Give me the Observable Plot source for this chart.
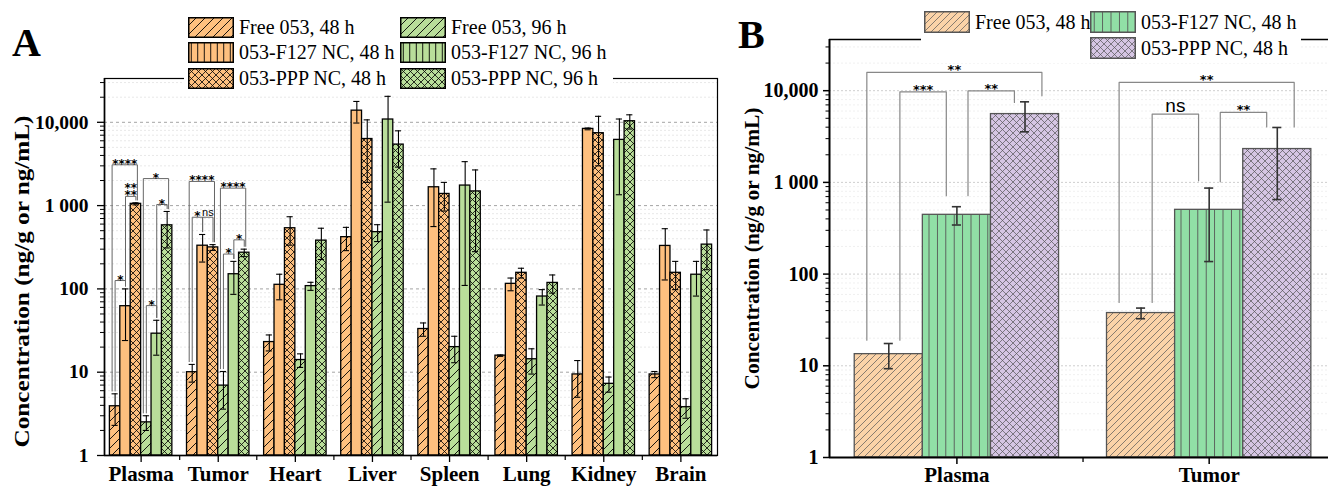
<!DOCTYPE html>
<html><head><meta charset="utf-8">
<script src="https://cdn.jsdelivr.net/npm/d3@7"></script>
<script src="https://cdn.jsdelivr.net/npm/@observablehq/plot@0.6"></script>
<style>
html,body{margin:0;padding:0;background:#fff;}
#root{position:relative;width:1328px;height:488px;overflow:hidden;}
.panel{position:absolute;top:0;}
.plab{position:absolute;font:bold 40px "Liberation Serif",serif;line-height:1;color:#000;}
.legbox{position:absolute;background:#fff;}
.item{position:absolute;display:flex;align-items:center;font:20px "Liberation Serif",serif;white-space:nowrap;color:#000;}
.item svg{display:block;margin-right:5px;flex:none;}
</style></head><body>
<div id="root">
<svg width="0" height="0" style="position:absolute;left:0;top:0"><defs id="defs"></defs></svg>
</div>
<script>
// ---------------- DATA ----------------
const organsA = ["Plasma","Tumor","Heart","Liver","Spleen","Lung","Kidney","Brain"];
const seriesA = ["Free 053, 48 h","053-F127 NC, 48 h","053-PPP NC, 48 h","Free 053, 96 h","053-F127 NC, 96 h","053-PPP NC, 96 h"];
const free48A   = [3.9, 10, 23, 418, 33, 15.8, 9.4, 9.4];
const free48Sd  = [1.6, 2.4, 5, 130, 6, 0.3, 4.4, 0.8];
const f127_48A  = [62, 330, 112, 13800, 1660, 115, 8330, 328];
const f127_48Sd = [38, 120, 38, 4000, 1100, 20, 200, 200];
const ppp48A    = [1050, 315, 535, 6300, 1380, 156, 7400, 156];
const ppp48Sd   = [30, 25, 200, 4400, 520, 21, 4400, 58];
const free96A   = [2.5, 6.9, 14, 480, 20, 14.3, 7.25, 3.8];
const free96Sd  = [0.5, 3.3, 2.6, 110, 7, 4.8, 1.5, 1.0];
const f127_96A  = [29, 150, 108, 10800, 1740, 81, 6150, 148];
const f127_96Sd = [13, 64, 12, 9700, 1630, 17, 4800, 66];
const ppp96A    = [580, 272, 380, 5400, 1480, 118, 10300, 340];
const ppp96Sd   = [270, 28, 155, 2500, 1200, 29, 2000, 170];

// significance brackets, panel A
const sigOrganA = ["Plasma","Plasma","Plasma","Plasma","Plasma","Plasma","Tumor","Tumor","Tumor","Tumor","Tumor","Tumor"];
const sigFromA  = [0, 1, 0, 3, 4, 3, 0, 0, 1, 3, 3, 4];
const sigToA    = [2, 2, 1, 5, 5, 4, 2, 1, 2, 5, 4, 5];
const sigLevelA = [3090, 1290, 126, 2110, 1030, 63, 1950, 725, 725, 1620, 262, 388];
const sigLabelA = ["****", "**\n**", "*", "*", "*", "*", "****", "*", "ns", "****", "*", "*"];

const organsB = ["Plasma","Tumor"];
const seriesB = ["Free 053, 48 h","053-F127 NC, 48 h","053-PPP NC, 48 h"];
const freeB   = [13.4, 37.6];
const freeSdB = [4.1, 5];
const f127B   = [443, 502];
const f127SdB = [100, 365];
const pppB    = [5560, 2310];
const pppSdB  = [2000, 1660];

// significance brackets, panel B
const sigOrganB    = ["Plasma","Plasma","Plasma","Tumor","Tumor","Tumor"];
const sigFromB     = [0, 0, 1, 0, 0, 1];
const sigToB       = [2, 1, 2, 2, 1, 2];
const sigLevelB    = [15800, 9730, 9970, 12300, 5560, 5790];
const sigBaseFromB = [19, 19, 715, 49, 49, 1014];
const sigBaseToB   = [8800, 715, 7450, 4030, 1040, 4030];
const sigLabelB    = ["**", "***", "**", "**", "ns", "**"];

const yTicks = [1, 10, 100, 1000, 10000];
const yTickLabels = ["1", "10", "100", "1 000", "10,000"];
const yTitle = "Concentration (ng/g or ng/mL)";

// ---------------- STYLE ----------------
const SERIF = "Liberation Serif, Times New Roman, serif";
const SANS = "DejaVu Sans, sans-serif";
const ORA = "#FEC07F", GRA = "#B9DE9A";
const ORB = "#FBD3A8", GRB = "#91DFA6", PUB = "#D5C5E3";

const defs = d3.select("#defs");
function pattern(id, kind, bg, size, stroke, sw) {
  const p = defs.append("pattern").attr("id", id).attr("patternUnits", "userSpaceOnUse")
    .attr("width", size).attr("height", size);
  p.append("rect").attr("width", size).attr("height", size).attr("fill", bg);
  const g = p.append("path").attr("fill", "none").attr("stroke", stroke).attr("stroke-width", sw);
  const s = size;
  if (kind === "diag") g.attr("d", `M0,${s} L${s},0 M${-s/2},${s/2} L${s/2},${-s/2} M${s/2},${s*1.5} L${s*1.5},${s/2}`);
  if (kind === "cross") g.attr("d", `M0,0 L${s},${s} M0,${s} L${s},0`);
  if (kind === "vert") g.attr("d", `M${s/2},0 L${s/2},${s}`);
}
pattern("aO_diag", "diag", ORA, 9, "#000", 0.9);
pattern("aO_vert", "vert", ORA, 6.5, "#000", 0.9);
pattern("aO_cross", "cross", ORA, 7, "#000", 0.8);
pattern("aG_diag", "diag", GRA, 9, "#000", 0.9);
pattern("aG_vert", "vert", GRA, 6.5, "#000", 0.9);
pattern("aG_cross", "cross", GRA, 7, "#000", 0.8);
pattern("bO_diag", "diag", ORB, 7, "#555", 0.7);
pattern("bG_vert", "vert", GRB, 8.4, "#555", 0.9);
pattern("bP_cross", "cross", PUB, 7, "#555", 0.7);

const barFillA = ["url(#aO_diag)", ORA, "url(#aO_cross)", "url(#aG_diag)", GRA, "url(#aG_cross)"];
const legFillA = ["url(#aO_diag)", "url(#aO_vert)", "url(#aO_cross)", "url(#aG_diag)", "url(#aG_vert)", "url(#aG_cross)"];
const fillB = ["url(#bO_diag)", "url(#bG_vert)", "url(#bP_cross)"];

const minorY = (max) => yTicks.flatMap(d => d3.range(2, 10).map(m => d * m)).filter(v => v <= max);
const fmtY = d => yTickLabels[yTicks.indexOf(d)];

const root = document.getElementById("root");
function place(node, left) {
  const d = document.createElement("div"); d.className = "panel"; d.style.left = left + "px";
  d.appendChild(node); root.appendChild(d); return node;
}
function stretchTitle(svg, len) {
  svg.querySelectorAll("text").forEach(t => {
    if (t.textContent === yTitle) { t.setAttribute("textLength", len); t.setAttribute("lengthAdjust", "spacingAndGlyphs"); }
  });
}

// ---------------- PANEL A ----------------
const meansA = [free48A, f127_48A, ppp48A, free96A, f127_96A, ppp96A];
const sdsA = [free48Sd, f127_48Sd, ppp48Sd, free96Sd, f127_96Sd, ppp96Sd];
const xDomA = [-0.475, 7.475], yMaxA = 33560;
const WA = 0.81 / 6, capA = 0.04;
const cxA = (i, k) => i + (k - 2.5) * WA;
const rowsA = meansA.map((arr, k) => arr.map((v, i) => ({i, k, v, sd: sdsA[k][i]})));
const allA = rowsA.flat();
const errTopA = (k, i) => meansA[k][i] + sdsA[k][i];

const brA = sigLabelA.map((label, j) => {
  const i = organsA.indexOf(sigOrganA[j]), f = sigFromA[j], t = sigToA[j];
  const outer = t - f >= 2;
  const xL = cxA(i, f) + (outer ? -0.039 : 0), xR = cxA(i, t) + (outer ? 0.019 : 0);
  return {j, label, xL, xR, level: sigLevelA[j], bL: errTopA(f, i) * 1.08, bR: errTopA(t, i) * 1.08};
});
const brPtsA = brA.flatMap(b => [
  {id: b.j, x: b.xL, y: b.bL}, {id: b.j, x: b.xL, y: b.level},
  {id: b.j, x: b.xR, y: b.level}, {id: b.j, x: b.xR, y: b.bR}]);
const labA = brA.map(b => ({x: (b.xL + b.xR) / 2, y: b.level, label: b.label}));

const svgA = Plot.plot({
  width: 740, height: 488, marginLeft: 104, marginRight: 23, marginTop: 78, marginBottom: 33,
  x: {domain: xDomA},
  y: {type: "log", domain: [1, yMaxA]},
  style: {background: "transparent", fontFamily: SERIF, color: "#000"},
  marks: [
    Plot.ruleY(minorY(yMaxA), {stroke: "#e2e2e2", strokeWidth: 0.8, strokeDasharray: "2,2"}),
    Plot.ruleY(yTicks.slice(1), {stroke: "#9a9a9a", strokeWidth: 0.9, strokeDasharray: "3,3"}),
    ...rowsA.map((rows, k) => Plot.rect(rows, {
      x1: d => cxA(d.i, d.k) - WA / 2, x2: d => cxA(d.i, d.k) + WA / 2,
      y1: 1, y2: "v", fill: barFillA[k], stroke: "#000", strokeWidth: 1.3})),
    Plot.ruleX(allA, {x: d => cxA(d.i, d.k), y1: d => d.v - d.sd, y2: d => d.v + d.sd, stroke: "#000", strokeWidth: 1.1}),
    Plot.ruleY(allA, {y: d => d.v + d.sd, x1: d => cxA(d.i, d.k) - capA, x2: d => cxA(d.i, d.k) + capA, stroke: "#000", strokeWidth: 1.1}),
    Plot.ruleY(allA, {y: d => d.v - d.sd, x1: d => cxA(d.i, d.k) - capA, x2: d => cxA(d.i, d.k) + capA, stroke: "#000", strokeWidth: 1.1}),
    Plot.line(brPtsA, {x: "x", y: "y", z: "id", stroke: "#666", strokeWidth: 1}),
    Plot.text(labA.filter(d => d.label !== "ns"), {x: "x", y: "y", text: "label", lineAnchor: "bottom", dy: 3,
      fontSize: 12, fontWeight: "bold", fontFamily: SANS, lineHeight: 0.62, fill: "#000"}),
    Plot.text(labA.filter(d => d.label === "ns"), {x: "x", y: "y", text: "label", lineAnchor: "bottom", dy: -1,
      fontSize: 11, fontFamily: "Liberation Sans, sans-serif", fill: "#000"}),
    Plot.frame({stroke: "#000", strokeWidth: 1.2}),
    Plot.ruleX([xDomA[0]], {stroke: "#000", strokeWidth: 1.6}),
    Plot.ruleY([1], {stroke: "#000", strokeWidth: 1.6}),
    Plot.axisY({ticks: yTicks, tickFormat: fmtY, tickSize: 7, tickPadding: 9, fontSize: 19.5, fontWeight: "bold",
      fontFamily: SERIF, label: null, strokeWidth: 1.3, color: "#000"}),
    Plot.axisY({ticks: minorY(yMaxA), tickFormat: () => "", tickSize: 4, label: null, strokeWidth: 1, color: "#000"}),
    Plot.axisX({ticks: d3.range(organsA.length), tickFormat: i => organsA[i], tickSize: 7, tickPadding: 4,
      fontSize: 21, fontWeight: "bold", fontFamily: SERIF, label: null, strokeWidth: 1.3, color: "#000"}),
    Plot.axisX({ticks: d3.range(organsA.length - 1).map(i => i + 0.5), tickFormat: () => "", tickSize: 5, label: null, strokeWidth: 1.2, color: "#000"}),
    Plot.text([yTitle], {text: d => d, frameAnchor: "left", textAnchor: "middle", lineAnchor: "middle", rotate: -90, dx: -82, dy: 14.5,
      fontSize: 21, fontWeight: "bold", fontFamily: SERIF, fill: "#000"})
  ]
});
place(svgA, 0);
stretchTitle(svgA, 332);

// ---------------- PANEL B ----------------
const meansB = [freeB, f127B, pppB];
const sdsB = [freeSdB, f127SdB, pppSdB];
const xDomB = [-0.505, 1.473], yMaxB = 36160;
const WB = 0.27, capB = 0.018;
const cxB = (i, k) => i + (k - 1) * WB;
const rowsB = meansB.map((arr, k) => arr.map((v, i) => ({i, k, v, sd: sdsB[k][i]})));
const allB = rowsB.flat();
const brB = sigLabelB.map((label, j) => {
  const i = organsB.indexOf(sigOrganB[j]), f = sigFromB[j], t = sigToB[j];
  const outer = t - f >= 2;
  const xL = cxB(i, f) + (outer ? -0.087 : 0.044), xR = cxB(i, t) + (outer ? 0.067 : -0.042);
  return {j, label, xL, xR, level: sigLevelB[j], bL: sigBaseFromB[j], bR: sigBaseToB[j]};
});
const brPtsB = brB.flatMap(b => [
  {id: b.j, x: b.xL, y: b.bL}, {id: b.j, x: b.xL, y: b.level},
  {id: b.j, x: b.xR, y: b.level}, {id: b.j, x: b.xR, y: b.bR}]);
const labB = brB.map(b => ({x: (b.xL + b.xR) / 2, y: b.level, label: b.label}));

const svgB = Plot.plot({
  width: 588, height: 488, marginLeft: 89, marginRight: 0, marginTop: 39, marginBottom: 31,
  x: {domain: xDomB},
  y: {type: "log", domain: [1, yMaxB]},
  style: {background: "transparent", fontFamily: SERIF, color: "#000"},
  marks: [
    Plot.ruleY(minorY(yMaxB), {stroke: "#ececec", strokeWidth: 0.8, strokeDasharray: "2,2"}),
    Plot.ruleY(yTicks.slice(1), {stroke: "#c8c8c8", strokeWidth: 0.9, strokeDasharray: "2,2"}),
    ...rowsB.map((rows, k) => Plot.rect(rows, {
      x1: d => cxB(d.i, d.k) - WB / 2, x2: d => cxB(d.i, d.k) + WB / 2,
      y1: 1, y2: "v", fill: fillB[k], stroke: "#555", strokeWidth: 1.3})),
    Plot.ruleX(allB, {x: d => cxB(d.i, d.k), y1: d => d.v - d.sd, y2: d => d.v + d.sd, stroke: "#333", strokeWidth: 1.6}),
    Plot.ruleY(allB, {y: d => d.v + d.sd, x1: d => cxB(d.i, d.k) - capB, x2: d => cxB(d.i, d.k) + capB, stroke: "#333", strokeWidth: 1.6}),
    Plot.ruleY(allB, {y: d => d.v - d.sd, x1: d => cxB(d.i, d.k) - capB, x2: d => cxB(d.i, d.k) + capB, stroke: "#333", strokeWidth: 1.6}),
    Plot.line(brPtsB, {x: "x", y: "y", z: "id", stroke: "#888", strokeWidth: 1.2}),
    Plot.text(labB.filter(d => d.label !== "ns"), {x: "x", y: "y", text: "label", lineAnchor: "bottom", dy: 2,
      fontSize: 13, fontWeight: "bold", fontFamily: SANS, fill: "#000"}),
    Plot.text(labB.filter(d => d.label === "ns"), {x: "x", y: "y", text: "label", lineAnchor: "bottom", dy: -2,
      fontSize: 19, fontFamily: "Liberation Sans, sans-serif", fill: "#000"}),
    Plot.ruleY([yMaxB], {stroke: "#000", strokeWidth: 1.3}),
    Plot.ruleX([xDomB[0]], {stroke: "#000", strokeWidth: 2}),
    Plot.ruleY([1], {stroke: "#000", strokeWidth: 2}),
    Plot.axisY({ticks: yTicks, tickFormat: fmtY, tickSize: 6, tickPadding: 5, fontSize: 20, fontWeight: "bold",
      fontFamily: SERIF, label: null, strokeWidth: 1.5, color: "#000"}),
    Plot.axisY({ticks: minorY(yMaxB), tickFormat: () => "", tickSize: 3.5, label: null, strokeWidth: 1, color: "#000"}),
    Plot.axisX({ticks: d3.range(organsB.length), tickFormat: i => organsB[i], tickSize: 7, tickPadding: 3,
      fontSize: 21, fontWeight: "bold", fontFamily: SERIF, label: null, strokeWidth: 1.5, color: "#000"}),
    Plot.axisX({ticks: [0.5], tickFormat: () => "", tickSize: 5, label: null, strokeWidth: 1.3, color: "#000"}),
    Plot.text([yTitle], {text: d => d, frameAnchor: "left", textAnchor: "middle", lineAnchor: "middle", rotate: -90, dx: -77, dy: 0,
      fontSize: 20, fontWeight: "bold", fontFamily: SERIF, fill: "#000"})
  ]
});
place(svgB, 740);
stretchTitle(svgB, 282);

// ---------------- PANEL LETTERS & LEGENDS ----------------
function addDiv(cls, css, html) {
  const d = document.createElement("div"); d.className = cls; Object.assign(d.style, css);
  if (html) d.innerHTML = html; root.appendChild(d); return d;
}
addDiv("plab", {left: "12px", top: "23px"}, "A");
addDiv("plab", {left: "738px", top: "15px"}, "B");

function legendItem(left, top, w, h, fill, stroke, label) {
  addDiv("item", {left: left + "px", top: top + "px", height: h + "px"},
    `<svg width="${w}" height="${h}"><rect x="0.75" y="0.75" width="${w - 1.5}" height="${h - 1.5}" fill="${fill}" stroke="${stroke}" stroke-width="1.5"/></svg><span>${label}</span>`);
}
addDiv("legbox", {left: "184px", top: "12px", width: "429px", height: "80px"});
seriesA.forEach((s, k) => {
  const col = Math.floor(k / 3), row = k % 3;
  legendItem(col ? 400 : 188, [17, 42, 68][row], 46, 21, legFillA[k], "#000", s);
});
addDiv("legbox", {left: "921px", top: "7px", width: "380px", height: "56px"});
legendItem(924, 11, 46, 22, fillB[0], "#555", seriesB[0]);
legendItem(1090, 11, 46, 22, fillB[1], "#555", seriesB[1]);
legendItem(1090, 37, 46, 22, fillB[2], "#555", seriesB[2]);
</script>
</body></html>
